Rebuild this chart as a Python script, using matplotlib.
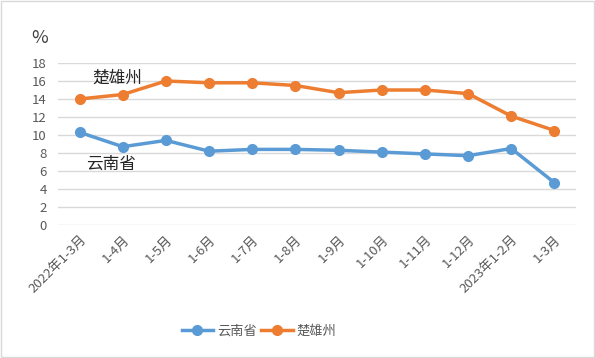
import matplotlib
matplotlib.use("Agg")
import matplotlib.pyplot as plt
from matplotlib.patches import Rectangle

plt.rcParams['font.family'] = ['Noto Sans CJK SC', 'DejaVu Sans']

categories = ["2022年1-3月", "1-4月", "1-5月", "1-6月", "1-7月", "1-8月", "1-9月",
              "1-10月", "1-11月", "1-12月", "2023年1-2月", "1-3月"]
yunnan = [10.3, 8.7, 9.4, 8.2, 8.4, 8.4, 8.3, 8.1, 7.9, 7.7, 8.5, 4.7]
chuxiong = [14.0, 14.5, 16.0, 15.8, 15.8, 15.5, 14.7, 15.0, 15.0, 14.6, 12.1, 10.5]
yticks = [0, 2, 4, 6, 8, 10, 12, 14, 16, 18]

blue = "#5B9BD5"
orange = "#ED7D31"
grey_txt = "#595959"

fig = plt.figure(figsize=(5.95, 3.58), dpi=100)
ax = fig.add_axes([58/595, 1-225/358, 518/595, 162/358])

x = list(range(len(categories)))
l1, = ax.plot(x, yunnan, color=blue, lw=2.5, marker='o', ms=7, label="云南省", zorder=3)
l2, = ax.plot(x, chuxiong, color=orange, lw=2.5, marker='o', ms=7, label="楚雄州", zorder=3)

ax.set_xlim(-0.5, len(categories) - 0.5)
ax.set_ylim(0, 18)
ax.set_yticks(yticks)
ax.set_yticklabels([str(v) for v in yticks], color=grey_txt, fontsize=9.5)
ax.yaxis.grid(True, color="#d9d9d9", lw=1)
ax.set_axisbelow(True)
for s in ax.spines.values():
    s.set_visible(False)
ax.tick_params(axis='both', length=0)
ax.tick_params(axis='y', pad=8)
ax.tick_params(axis='x', pad=6)
ax.set_xticks(x)
ax.set_xticklabels(categories, rotation=45, ha='right', rotation_mode='anchor',
                   color=grey_txt, fontsize=9.5)

ax.text(0.88, 16.3, "楚雄州", fontsize=12, color="#262626", ha='center', va='center')
ax.text(0.72, 6.7, "云南省", fontsize=12, color="#262626", ha='center', va='center')

fig.text(40/595, 1-38/358, "%", fontsize=13, color="#404040", ha='center', va='center')

fig.legend(handles=[l1, l2], loc='center', bbox_to_anchor=(259/595, 1-331/358), ncol=2,
           frameon=False, fontsize=9.5, labelcolor=grey_txt, handlelength=2.4,
           columnspacing=0.3, handletextpad=0.3)

fig.patches.append(Rectangle((0.002, 0.003), 0.996, 0.994, transform=fig.transFigure,
                             fill=False, edgecolor="#d9d9d9", lw=1))

fig.savefig("out.png", dpi=100)
